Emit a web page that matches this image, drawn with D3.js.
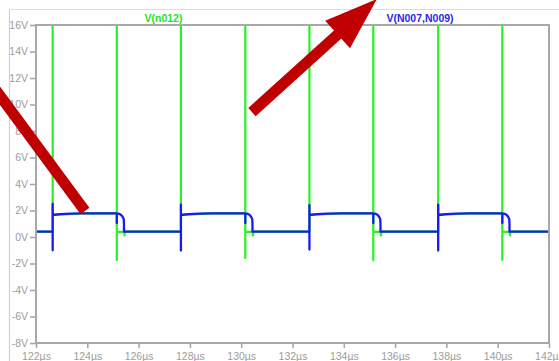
<!DOCTYPE html>
<html>
<head>
<meta charset="utf-8">
<script src="https://cdn.jsdelivr.net/npm/d3@7"></script>
<style>
  html, body { margin: 0; padding: 0; background: #fff; }
  svg { display: block; font-family: "Liberation Sans", Arial, sans-serif; }
</style>
</head>
<body>
<svg id="chart" width="559" height="361"></svg>
<script>
// Axis ticks
const timeTicks = [122, 124, 126, 128, 130, 132, 134, 136, 138, 140, 142]; // µs
const voltTicks = [-8, -6, -4, -2, 0, 2, 4, 6, 8, 10, 12, 14, 16];       // V

// Trace names
const traceNames = ["V(n012)", "V(N007,N009)"];

// V(N007,N009): [time µs, volts]
const bluePoints = [
  [122.00, 0.40],
  [122.65, 0.40], [122.65, -1.00], [122.65, 2.50], [122.65, 1.66], [122.73, 1.68], [122.95, 1.73], [123.35, 1.77], [123.85, 1.79],
  [125.15, 1.79], [125.15, 1.05], [125.15, 1.77], [125.23, 1.76], [125.31, 1.68], [125.37, 1.55], [125.42, 1.35], [125.43, 1.00], [125.43, 0.40],
  [127.65, 0.40], [127.65, -1.02], [127.65, 2.45], [127.65, 1.66], [127.73, 1.68], [127.95, 1.73], [128.35, 1.77], [128.85, 1.79],
  [130.16, 1.79], [130.16, 1.05], [130.16, 1.77], [130.24, 1.76], [130.32, 1.68], [130.38, 1.55], [130.43, 1.35], [130.44, 1.00], [130.44, 0.40],
  [132.66, 0.40], [132.66, -0.95], [132.66, 2.40], [132.66, 1.66], [132.74, 1.68], [132.96, 1.73], [133.36, 1.77], [133.86, 1.79],
  [135.15, 1.79], [135.15, 1.05], [135.15, 1.77], [135.23, 1.76], [135.31, 1.68], [135.37, 1.55], [135.42, 1.35], [135.43, 1.00], [135.43, 0.40],
  [137.68, 0.40], [137.68, -1.02], [137.68, 2.45], [137.68, 1.66], [137.76, 1.68], [137.98, 1.73], [138.38, 1.77], [138.88, 1.79],
  [140.18, 1.79], [140.18, 1.05], [140.18, 1.77], [140.26, 1.76], [140.34, 1.68], [140.40, 1.55], [140.45, 1.35], [140.46, 1.00], [140.46, 0.40],
  [142.00, 0.40]
];

// V(n012): [time µs, volts] — switching spikes run far past the top of the window
const greenPoints = [
  [122.00, 0.40],
  [122.65, 0.40], [122.65, 30.0], [122.65, 1.66], [123.85, 1.79],
  [125.15, 1.79], [125.15, 30.0], [125.15, -1.74], [125.15, 0.38], [125.45, 0.38], [125.45, 0.12], [125.47, 0.40],
  [127.65, 0.40], [127.65, 30.0], [127.65, 1.66], [128.85, 1.79],
  [130.16, 1.79], [130.16, 30.0], [130.16, -1.58], [130.16, 0.38], [130.46, 0.38], [130.46, 0.12], [130.48, 0.40],
  [132.66, 0.40], [132.66, 30.0], [132.66, 1.66], [133.86, 1.79],
  [135.15, 1.79], [135.15, 30.0], [135.15, -1.76], [135.15, 0.38], [135.45, 0.38], [135.45, 0.12], [135.47, 0.40],
  [137.68, 0.40], [137.68, 30.0], [137.68, 1.66], [138.88, 1.79],
  [140.18, 1.79], [140.18, 30.0], [140.18, -1.72], [140.18, 0.38], [140.48, 0.38], [140.48, 0.12], [140.50, 0.40],
  [142.00, 0.40]
];

// Callout arrows drawn over the plot, [time µs, volts] endpoints
const arrowFromTopLeft = [[120.20, 11.70], [123.91, 1.96]];   // plain bar
const arrowToBlueLabel = [[130.42, 9.43], [135.29, 17.96]];   // bar with arrowhead at the end

const svg = d3.select("#chart");
const W = 559, H = 361;
const plot = { left: 36, top: 25, right: 549, bottom: 343 };

const x = d3.scaleLinear().domain([122, 142]).range([plot.left, plot.right]);
const y = d3.scaleLinear().domain([-8, 16]).range([plot.bottom, plot.top]);

const gray = "#a8a8a8";
const labelGray = "#9c9c9c";

// Window border lines
svg.append("line").attr("x1", 9.5).attr("x2", W).attr("y1", 9.5).attr("y2", 9.5)
  .attr("stroke", "#dcdcdc").attr("stroke-width", 1.2);
svg.append("line").attr("x1", 9.5).attr("x2", 9.5).attr("y1", 9.5).attr("y2", H)
  .attr("stroke", "#d0d0d0").attr("stroke-width", 1.2);

// Y axis
const yAxis = svg.append("g")
  .attr("transform", `translate(${plot.left},0)`)
  .call(d3.axisLeft(y).tickValues(voltTicks).tickSize(6).tickPadding(2).tickFormat(d => d + "V"));
yAxis.select(".domain").remove();
yAxis.selectAll(".tick line").attr("stroke", gray).attr("stroke-width", 1.6);
yAxis.selectAll(".tick text").attr("fill", labelGray).attr("font-size", 10.5)
  .attr("font-family", "Liberation Sans, Arial, sans-serif");

// X axis
const xAxis = svg.append("g")
  .attr("transform", `translate(0,${plot.bottom})`)
  .call(d3.axisBottom(x).tickValues(timeTicks).tickSize(5).tickPadding(4.5).tickFormat(d => d + "µs"));
xAxis.select(".domain").remove();
xAxis.selectAll(".tick line").attr("stroke", gray).attr("stroke-width", 1.6);
xAxis.selectAll(".tick text").attr("fill", labelGray).attr("font-size", 10.5)
  .attr("font-family", "Liberation Sans, Arial, sans-serif");

// Clip traces to the plot frame
svg.append("clipPath").attr("id", "plotClip")
  .append("rect")
  .attr("x", plot.left).attr("y", plot.top)
  .attr("width", plot.right - plot.left).attr("height", plot.bottom - plot.top);

const line = d3.line().x(d => x(d[0])).y(d => y(d[1]));

const traces = svg.append("g").attr("clip-path", "url(#plotClip)");
traces.append("path").datum(greenPoints)
  .attr("d", line).attr("fill", "none")
  .attr("stroke", "#28f028").attr("stroke-width", 2.2).attr("stroke-linejoin", "round");
traces.append("path").datum(bluePoints)
  .attr("d", line).attr("fill", "none")
  .attr("stroke", "#1a1aee").attr("stroke-width", 2.3).attr("stroke-linejoin", "round");

// Plot frame
svg.append("rect")
  .attr("x", plot.left).attr("y", plot.top)
  .attr("width", plot.right - plot.left).attr("height", plot.bottom - plot.top)
  .attr("fill", "none").attr("stroke", gray).attr("stroke-width", 2);

// Trace labels
svg.append("text").attr("x", 163.5).attr("y", 21.5).attr("text-anchor", "middle")
  .attr("font-size", 10.5).attr("font-weight", "bold").attr("fill", "#28e028")
  .text(traceNames[0]);
svg.append("text").attr("x", 420).attr("y", 21.5).attr("text-anchor", "middle")
  .attr("font-size", 10.5).attr("font-weight", "bold").attr("fill", "#2a2ae6")
  .text(traceNames[1]);

// Callout arrows
const red = "#c00000";
const barWidth = 11;

svg.append("line")
  .attr("x1", x(arrowFromTopLeft[0][0])).attr("y1", y(arrowFromTopLeft[0][1]))
  .attr("x2", x(arrowFromTopLeft[1][0])).attr("y2", y(arrowFromTopLeft[1][1]))
  .attr("stroke", red).attr("stroke-width", barWidth).attr("stroke-linecap", "butt");

{
  const tx = x(arrowToBlueLabel[0][0]), ty = y(arrowToBlueLabel[0][1]);
  const hx = x(arrowToBlueLabel[1][0]), hy = y(arrowToBlueLabel[1][1]);
  const len = Math.hypot(hx - tx, hy - ty);
  const ux = (hx - tx) / len, uy = (hy - ty) / len;
  const headLen = 53, headHalf = 18.5;
  const bx = hx - ux * headLen, by = hy - uy * headLen;
  svg.append("line")
    .attr("x1", tx).attr("y1", ty).attr("x2", bx + ux * 2).attr("y2", by + uy * 2)
    .attr("stroke", red).attr("stroke-width", barWidth).attr("stroke-linecap", "butt");
  svg.append("path")
    .attr("d", `M${hx},${hy} L${bx - uy * headHalf},${by + ux * headHalf} L${bx + uy * headHalf},${by - ux * headHalf} Z`)
    .attr("fill", red);
}
</script>
</body>
</html>
